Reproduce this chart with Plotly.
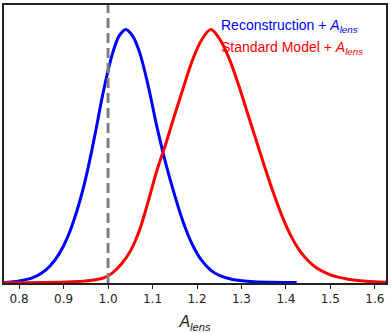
import plotly.graph_objects as go

# Data (normalized posterior heights)
blue_x = [0.766, 0.800, 0.830, 0.850, 0.870, 0.890, 0.910, 0.930, 0.950, 0.970, 0.990,
          1.010, 1.025, 1.040, 1.055, 1.070, 1.090, 1.110, 1.130, 1.150, 1.170, 1.190,
          1.210, 1.230, 1.250, 1.280, 1.320, 1.370, 1.424]
blue_y = [0.002, 0.008, 0.020, 0.038, 0.068, 0.115, 0.185, 0.285, 0.415, 0.580, 0.760,
          0.905, 0.975, 1.000, 0.975, 0.915, 0.780, 0.615, 0.470, 0.345, 0.235, 0.150,
          0.090, 0.052, 0.030, 0.014, 0.006, 0.003, 0.002]

red_x = [0.766, 0.850, 0.920, 0.960, 0.990, 1.010, 1.030, 1.050, 1.070, 1.090, 1.110,
         1.130, 1.150, 1.170, 1.190, 1.210, 1.231, 1.250, 1.270, 1.290, 1.310, 1.330,
         1.350, 1.370, 1.390, 1.410, 1.430, 1.450, 1.470, 1.500, 1.540, 1.580, 1.625]
red_y = [0.001, 0.002, 0.005, 0.010, 0.020, 0.040, 0.075, 0.125, 0.205, 0.320, 0.445,
         0.550, 0.665, 0.775, 0.880, 0.958, 1.000, 0.965, 0.895, 0.800, 0.690, 0.580,
         0.470, 0.365, 0.270, 0.190, 0.130, 0.088, 0.058, 0.032, 0.015, 0.007, 0.003]

ref_x = 1.0
x_ticks = [0.8, 0.9, 1.0, 1.1, 1.2, 1.3, 1.4, 1.5, 1.6]
x_range = [0.766, 1.625]
y_range = [0, 1.097]

fig = go.Figure()
fig.add_trace(go.Scatter(x=blue_x, y=blue_y, mode="lines",
                         line=dict(color="#0000ff", width=3, shape="spline", smoothing=1.0),
                         showlegend=False))
fig.add_trace(go.Scatter(x=red_x, y=red_y, mode="lines",
                         line=dict(color="#ff0000", width=3, shape="spline", smoothing=1.0),
                         showlegend=False))
fig.add_shape(type="line", x0=ref_x, x1=ref_x, y0=0, y1=1, xref="x", yref="paper",
              line=dict(color="#808080", width=3, dash="10px,5px"))

fig.add_annotation(x=0.563, y=0.925, xref="paper", yref="paper", xanchor="left", yanchor="middle",
                   text="Reconstruction + <i>A</i><sub><i>lens</i></sub>", showarrow=False,
                   font=dict(color="#0000ff", size=14, family="Liberation Sans"))
fig.add_annotation(x=0.563, y=0.846, xref="paper", yref="paper", xanchor="left", yanchor="middle",
                   text="Standard Model + <i>A</i><sub><i>lens</i></sub>", showarrow=False,
                   font=dict(color="#ff0000", size=14, family="Liberation Sans"))

fig.update_layout(
    width=391, height=333,
    margin=dict(l=4, r=5, t=5, b=50, autoexpand=False),
    paper_bgcolor="white", plot_bgcolor="white",
    font=dict(family="DejaVu Sans", color="#222222", size=12),
    xaxis=dict(range=x_range, tickvals=x_ticks, ticktext=[f"{v:.1f}" for v in x_ticks],
               showgrid=False, zeroline=False, showline=True, mirror=True,
               linecolor="#222222", linewidth=1.5, ticks="outside", ticklen=4,
               tickcolor="#222222", tickfont=dict(size=12), automargin=False,
               title=dict(text="<i>A</i><sub><i>lens</i></sub>",
                          font=dict(size=16, family="Liberation Sans"), standoff=11)),
    yaxis=dict(range=y_range, showticklabels=False, ticks="", showgrid=False, zeroline=False,
               showline=True, mirror=True, linecolor="#222222", linewidth=1.5,
               automargin=False),
)

fig.write_html("out.html", config={"displayModeBar": False},
               post_script="document.body.style.margin='0';document.body.style.overflow='hidden';")
